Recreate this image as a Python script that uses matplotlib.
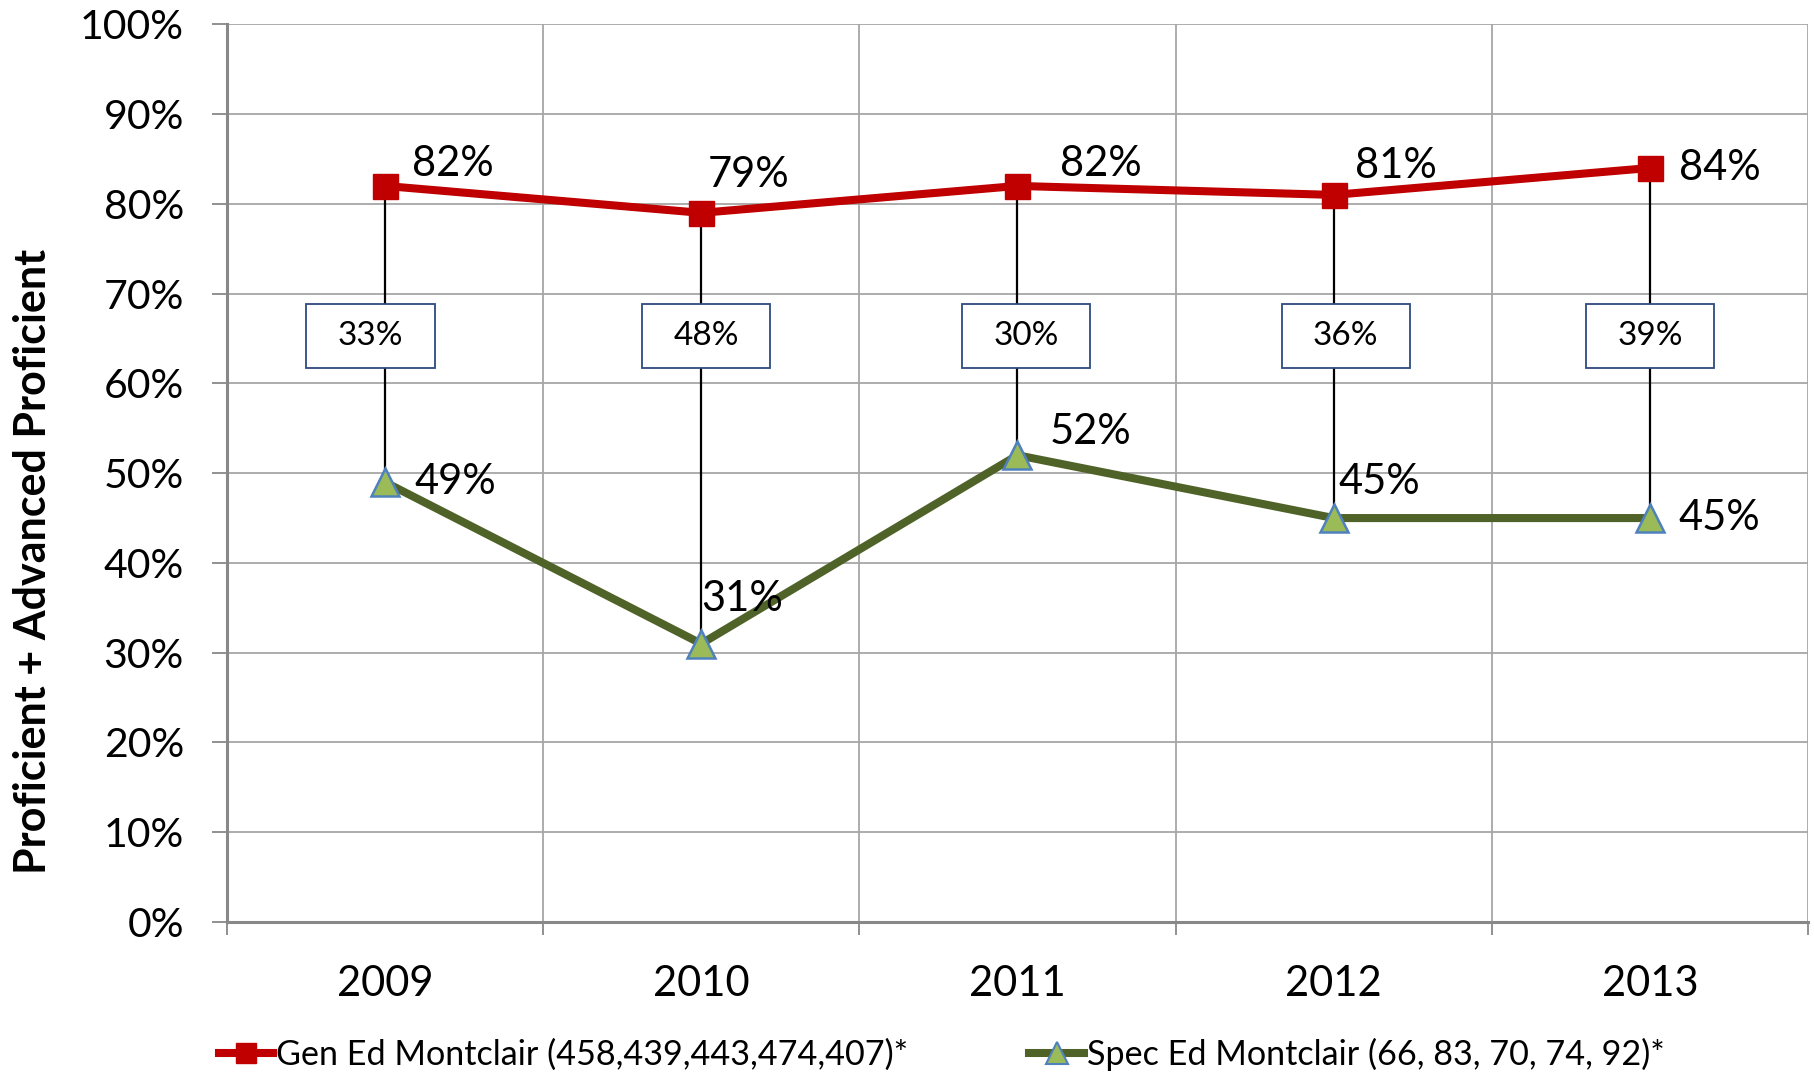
import numpy as np
import matplotlib
matplotlib.use("Agg")
import matplotlib.pyplot as plt
from matplotlib.patches import Rectangle
from matplotlib.lines import Line2D

plt.rcParams['font.family'] = ['Lato', 'DejaVu Sans']

years = ['2009', '2010', '2011', '2012', '2013']
gen_ed = [82, 79, 82, 81, 84]
spec_ed = [49, 31, 52, 45, 45]
gap_labels = ['33%', '48%', '30%', '36%', '39%']
gen_name = 'Gen Ed Montclair (458,439,443,474,407)*'
spec_name = 'Spec Ed Montclair (66, 83, 70, 74, 92)*'

# label offsets in pixels (dx, dy)
gen_off = [(27, 22), (6, 38), (43, 22), (21, 29), (29, 0)]
spec_off = [(29, 0), (0, 45), (32, 23), (5, 36), (29, 0)]
box_shift = [-0.046, 0.015, 0.027, 0.038, 0.0]

red = '#C00000'
olive = '#4F6228'
grid_c = '#A6A6A6'

fig = plt.figure(figsize=(18.14, 10.77), dpi=100)
ax = fig.add_axes([0.1251, 0.1439, 0.8716, 0.8335])

x = np.arange(len(years))
ax.set_xlim(-0.5, 4.5)
ax.set_ylim(0, 100)

# grid
ax.set_yticks(np.arange(0, 101, 10))
ax.set_yticklabels([f'{v}%' for v in range(0, 101, 10)])
ax.set_xticks(np.arange(-0.5, 4.6, 1))
ax.set_xticklabels([])
ax.set_xticks(x, minor=True)
ax.set_xticklabels(years, minor=True)
ax.grid(True, which='major', color=grid_c, lw=1.3)
ax.set_axisbelow(True)
for s in ['top', 'right']:
    ax.spines[s].set_visible(False)
for s in ['left', 'bottom']:
    ax.spines[s].set_color('#888888')
    ax.spines[s].set_linewidth(2.2)
ax.tick_params(axis='y', which='major', length=11, width=1.3, color='#888888',
               labelsize=29.5, pad=20)
ax.tick_params(axis='x', which='major', length=9, width=1.3, color='#888888')
ax.tick_params(axis='x', which='minor', length=0, labelsize=30, pad=31)

# high-low lines
ax.vlines(x, spec_ed, gen_ed, color='black', lw=1.6, zorder=3)

# gap boxes
bw, bh, by = 0.405, 7.1, 65.3
for i, lab in enumerate(gap_labels):
    cx = x[i] + box_shift[i]
    ax.add_patch(Rectangle((cx - bw / 2, by - bh / 2), bw, bh, facecolor='white',
                           edgecolor='#2F4A7F', lw=1.3, zorder=4))
    ax.text(cx, by, lab, ha='center', va='center', fontsize=24, zorder=5)

ax.plot(x, gen_ed, color=red, lw=5.8, marker='s', ms=18, mfc=red, mec=red,
        zorder=6, label=gen_name)
ax.plot(x, spec_ed, color=olive, lw=5.8, marker='^', ms=20, mfc='#9BBB59',
        mec='#4F81BD', mew=1.8, zorder=6, label=spec_name)

for i in range(len(years)):
    ax.annotate(f'{gen_ed[i]}%', (x[i], gen_ed[i]),
                xytext=(gen_off[i][0] * 0.72, gen_off[i][1] * 0.72),
                textcoords='offset points', ha='left', va='center', fontsize=30, zorder=7)
    ax.annotate(f'{spec_ed[i]}%', (x[i], spec_ed[i]),
                xytext=(spec_off[i][0] * 0.72, spec_off[i][1] * 0.72),
                textcoords='offset points', ha='left', va='center', fontsize=30, zorder=7)

ax.set_ylabel('Proficient + Advanced Proficient', fontsize=31, fontweight='bold')
ax.yaxis.set_label_coords(-0.110, 0.402)

h1 = Line2D([], [], color=red, lw=5.8, marker='s', ms=15, mfc=red, mec=red)
h2 = Line2D([], [], color=olive, lw=5.8, marker='^', ms=16, mfc='#9BBB59', mec='#4F81BD', mew=1.5)
fig.legend([h1, h2], [gen_name, spec_name], loc='center left', ncol=2,
           bbox_to_anchor=(0.1036, 0.021), frameon=False, fontsize=24.6,
           handlelength=1.6, handletextpad=0.08, columnspacing=3.55)

fig.savefig('out.png', dpi=100)
